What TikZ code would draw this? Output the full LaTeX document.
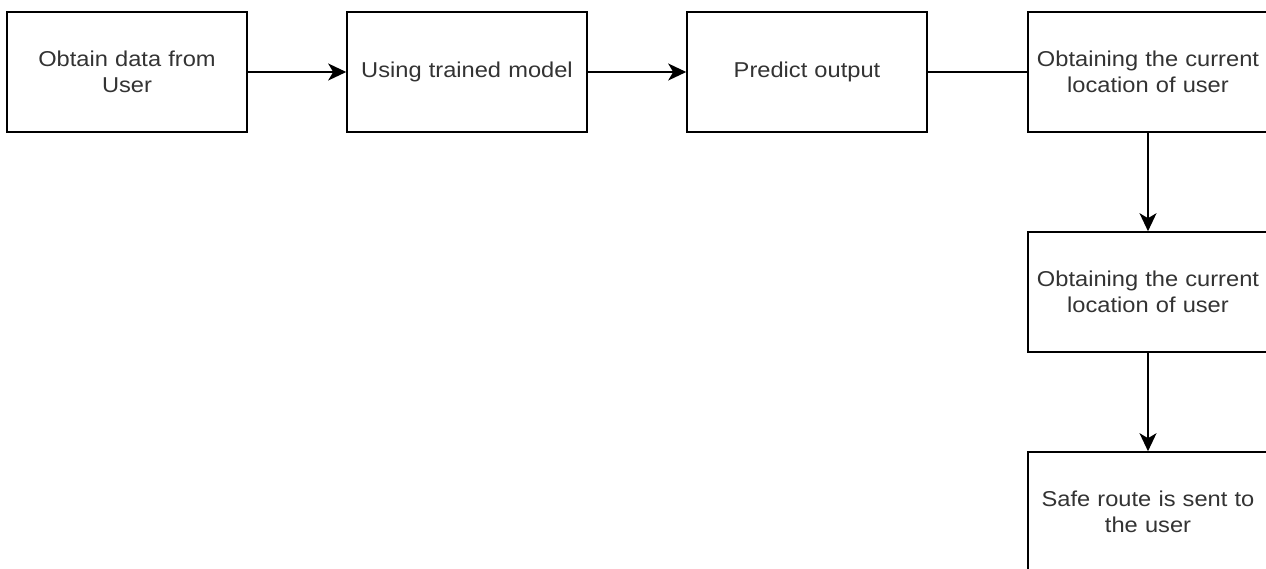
\documentclass[tikz,border=0pt]{standalone}
\usepackage{fontspec}
\setmainfont[FakeStretch=1.1]{Liberation Sans}
\usetikzlibrary{arrows.meta}
\definecolor{txt}{HTML}{333333}
\begin{document}
\begin{tikzpicture}[x=1pt,y=1pt,
  box/.style={draw=black,line width=1.6pt,minimum width=240pt,minimum height=120pt,
    align=center,text width=230pt,text=txt,inner sep=0pt,
    font=\fontsize{21.5}{26}\selectfont},
  conn/.style={line width=1.6pt,draw=black},
  arr/.style={conn,-{Stealth[length=18pt,width=17pt,inset=5pt]}}]
\useasboundingbox (0,0) rectangle (1266,-568);
\fill[white] (0,0) rectangle (1266,-568);
\node[box] (a) at (127,-72) {Obtain data from\\User};
\node[box] (b) at (467,-72) {Using trained model};
\node[box] (c) at (807,-72) {Predict output};
\node[box] (d) at (1148,-72) {Obtaining the current\\location of user};
\node[box] (e) at (1148,-292) {Obtaining the current\\location of user};
\node[box] (f) at (1148,-512) {Safe route is sent to\\the user};
\draw[arr] (a) -- (b);
\draw[arr] (b) -- (c);
\draw[conn] (c) -- (d);
\draw[arr] (d) -- (e);
\draw[arr] (e) -- (f);
\end{tikzpicture}
\end{document}
